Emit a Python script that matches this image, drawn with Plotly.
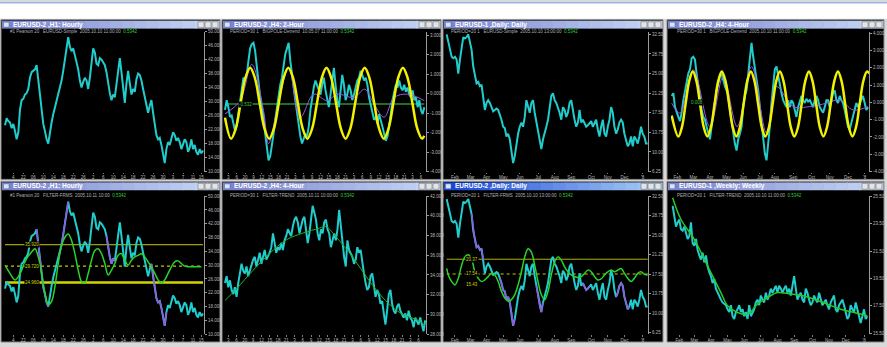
import plotly.graph_objects as go

# ---------------------------------------------------------------------------
# DATA  (expressed on a 0-100 scale of each
#        chart's height; tick labels give the price text shown on the axis)
# ---------------------------------------------------------------------------
# Panel 1 / Panel 5 : same instrument (hourly)
P1_CLOSE = [33, 38, 36, 35, 31, 34, 29, 23, 28, 44,
            51, 52, 55, 56, 59, 67, 71, 72, 73, 76,
            65, 51, 42, 34, 29, 23, 20, 29, 35, 41,
            46, 51, 55, 59, 65, 72, 81, 86, 96, 89,
            86, 88, 83, 78, 73, 65, 60, 64, 67, 65,
            59, 67, 79, 88, 85, 77, 76, 81, 80, 78,
            76, 71, 63, 56, 51, 55, 53, 63, 74, 81,
            71, 58, 49, 63, 72, 63, 55, 59, 57, 66,
            70, 69, 65, 59, 53, 47, 42, 47, 51, 42,
            33, 26, 23, 24, 19, 12, 6, 16, 21, 19,
            23, 28, 26, 22, 24, 21, 16, 19, 23, 21,
            14, 17, 23, 16, 19, 14, 12, 16, 13, 15]

# Panel 2 (cycle view)
P2_CLOSE = [44, 51, 46, 39, 40, 34, 29, 33, 41, 51,
            60, 67, 66, 69, 79, 88, 91, 92, 86, 74,
            62, 53, 46, 39, 27, 15, 8, 11, 18, 27,
            37, 46, 55, 62, 67, 77, 84, 88, 92, 79,
            67, 60, 51, 41, 32, 25, 20, 24, 27, 25,
            32, 44, 53, 60, 65, 62, 58, 55, 62, 67,
            58, 51, 46, 55, 67, 74, 62, 51, 46, 58,
            69, 62, 51, 55, 62, 58, 51, 55, 60, 65,
            67, 72, 69, 65, 67, 62, 53, 48, 41, 37,
            39, 34, 41, 37, 32, 27, 22, 25, 32, 41,
            51, 58, 62, 60, 65, 60, 58, 62, 57, 60,
            55, 53, 58, 51, 53, 46, 51, 44, 41, 46]
P2_CYCLE_BARS = [0, 3.6, 6.45, 9.3, 12.15, 15, 17.85, 20.7, 23.55, 26.4,
                 29.25, 32.1, 34.95, 37.8, 40.65, 43.5, 46.35, 49.2, 52.05, 54.9,
                 57.75, 60.6, 63.45, 66.3, 69.15, 72, 74.85, 77.7, 80.55, 83.4,
                 86.25, 89.1, 91.95, 94.8, 97.65, 100.5, 103.35, 106.2, 109.05, 111.9,
                 114.75, 117.6, 119]
P2_CYCLE = [38.5,
            23.5, 30.8, 48.8, 66.8, 74.1, 66.8, 48.8, 30.8,
            23.5, 30.8, 48.8, 66.8, 74.1, 66.8, 48.8, 30.8,
            23.5, 30.8, 48.8, 66.8, 74.1, 66.8, 48.8, 30.8,
            23.5, 30.8, 48.8, 66.8, 74.1, 66.8, 48.8, 30.8,
            23.5, 30.8, 48.8, 66.8, 74.1, 66.8, 48.8, 30.8,
            23.5, 25.5]
P2_MA_BARS = [0, 9, 16, 23, 26, 31, 38, 45, 53, 61, 67, 77, 83.4, 89, 95, 101, 109, 119]
P2_MA = [41.2, 50.6, 76.5, 43.5, 20, 43.5, 74.1, 38.8, 55.3, 50.6,
         55.3, 52.9, 58.8, 48.2, 38.8, 52.9, 55.3, 50.6]
P2_LEVEL = [48.2]

# Panel 3 / Panel 7 : same instrument (daily)
P3_CLOSE = [98, 92, 88, 82, 81, 82, 80, 70, 80, 87,
            96, 95, 96, 98, 92, 87, 75, 68, 63, 64,
            61, 62, 54, 44, 49, 51, 49, 46, 43, 44,
            45, 44, 41, 37, 32, 31, 25, 27, 23, 16,
            6, 11, 20, 27, 32, 35, 32, 39, 51, 46,
            42, 49, 51, 42, 35, 27, 20, 16, 23, 27,
            32, 37, 44, 54, 56, 51, 49, 46, 42, 37,
            46, 44, 39, 42, 49, 51, 42, 37, 32, 35,
            44, 35, 37, 35, 32, 33, 35, 36, 32, 35,
            37, 30, 25, 32, 37, 27, 25, 32, 37, 46,
            42, 32, 27, 30, 35, 37, 35, 27, 23, 18,
            20, 25, 18, 25, 23, 20, 25, 32, 27, 25,
            20, 20]

# Panel 4 (cycle view, 4-hour)
P4_CLOSE = [54, 56, 46, 42, 39, 36, 42, 51, 58, 65,
            70, 73, 81, 82, 80, 70, 61, 51, 44, 39,
            37, 32, 27, 23, 32, 42, 51, 58, 63, 68,
            70, 65, 61, 58, 54, 44, 35, 25, 20, 15,
            23, 27, 32, 46, 54, 58, 68, 82, 92, 82,
            75, 68, 58, 46, 35, 23, 13, 8, 18, 32,
            49, 61, 73, 75, 68, 61, 56, 51, 49, 46,
            51, 46, 51, 49, 44, 39, 46, 51, 54, 51,
            49, 52, 50, 51, 49, 46, 51, 54, 51, 46,
            44, 42, 46, 51, 51, 46, 51, 56, 58, 51,
            49, 54, 51, 49, 44, 37, 32, 30, 35, 39,
            44, 49, 46, 49, 51, 54, 49, 44, 46]
P4_CYCLE_BARS = [0, 4, 6.18, 8.36, 10.54, 12.72, 14.9, 17.08, 19.26, 21.44,
                 23.62, 25.8, 27.98, 30.16, 32.34, 34.52, 36.7, 38.88, 41.06, 43.24,
                 45.42, 47.6, 49.78, 51.96, 54.14, 56.32, 58.5, 60.68, 62.86, 65.04,
                 67.22, 69.4, 71.58, 73.76, 75.94, 78.12, 80.3, 82.48, 84.66, 86.84,
                 89.02, 91.2, 93.38, 95.56, 97.74, 99.92, 102.1, 104.28, 106.46, 108.64,
                 110.82, 113, 115.18, 117.36, 119]
P4_CYCLE = [40,
            25, 31.8, 48.2, 64.6, 71.4, 64.6, 48.2, 31.8,
            25, 31.8, 48.2, 64.6, 71.4, 64.6, 48.2, 31.8,
            25, 31.8, 48.2, 64.6, 71.4, 64.6, 48.2, 31.8,
            25, 31.8, 48.2, 64.6, 71.4, 64.6, 48.2, 31.8,
            25, 31.8, 48.2, 64.6, 71.4, 64.6, 48.2, 31.8,
            25, 31.8, 48.2, 64.6, 71.4, 64.6, 48.2, 31.8,
            25, 31.8, 48.2, 64.6, 71.4,
            70]
P4_MA_BARS = [0, 5, 13, 23, 31, 39.4, 48, 57, 63, 73, 83, 93, 101, 109, 118]
P4_MA = [48.8, 41.7, 72.6, 32.1, 67.9, 32.1, 75, 27.4, 60.7, 46.4, 46.4, 48.8, 51.2, 44, 46.4]

# Panel 5 oscillator + levels
P5_OSC_BARS = [0, 3, 6, 8, 10, 13, 16, 18, 20, 22,
               24, 26, 28, 30, 32, 34, 36, 38, 40, 42,
               44, 46, 48, 50, 52, 54, 56, 58, 60, 62,
               64, 66, 68, 70, 72, 74, 76, 78, 80, 82,
               84, 86, 88, 90, 92, 94, 96, 98, 100, 102,
               104, 106, 108, 111, 115, 118]
P5_OSC = [50, 44, 39.3, 41.7, 46.4, 54.8, 59.5, 61.9, 56, 44,
          29.8, 21.4, 23.8, 34.5, 51.2, 64.3, 70.2, 72.6, 67.9, 58.3,
          46.4, 38.1, 36.9, 44, 53.6, 60.7, 61.9, 58.3, 51.2, 42.9,
          46.4, 51.2, 57.1, 58.3, 53.6, 50, 53.6, 56, 57.1, 58.3,
          56, 52.4, 48.8, 44, 39.3, 36.9, 39.3, 44, 48.8, 52.4,
          53.1, 51.2, 49.3, 48.8, 48.8, 48.8]
P5_LEVELS = [64.8, 49.3, 37.4]
P5_LEVEL_LABELS = ["35.920", "29.720", "24.960"]

# Panel 6 (4-hour with smooth trend)
P6_CLOSE = [37, 42, 34, 39, 32, 29, 34, 27, 37, 46,
            51, 46, 44, 49, 42, 46, 51, 54, 56, 49,
            54, 59, 51, 56, 61, 54, 56, 59, 63, 73,
            66, 59, 63, 61, 66, 61, 68, 71, 76, 73,
            71, 78, 83, 85, 81, 73, 78, 83, 85, 76,
            66, 73, 85, 93, 88, 83, 73, 68, 76, 73,
            81, 83, 76, 73, 63, 68, 73, 68, 76, 90,
            78, 63, 56, 49, 68, 61, 59, 56, 51, 54,
            63, 59, 61, 51, 44, 37, 32, 34, 42, 44,
            34, 27, 32, 29, 22, 24, 15, 7, 17, 29,
            32, 22, 17, 15, 20, 22, 17, 15, 12, 15,
            10, 17, 12, 10, 5, 12, 10, 7, 12, 7,
            2, 10]
P6_TREND_BARS = [0, 7, 17, 27, 37, 47, 57, 61, 67, 77, 87, 97, 107, 117, 121]
P6_TREND = [24.4, 32.9, 46.3, 58.5, 68.3, 73.2, 76.8, 78, 70.7, 56.1, 39, 24.4, 14.6, 9.8, 6.1]

# Panel 7 oscillator + levels
P7_OSC_BARS = [0, 1, 3, 5, 7, 9, 11, 13, 15, 17,
               19, 21, 23, 25, 27, 29, 31, 33, 35, 37,
               39, 41, 43, 45, 47, 49, 51, 53, 55, 57,
               59, 61, 63, 65, 67, 69, 71, 73, 75, 77,
               79, 81, 83, 85, 87, 89, 91, 93, 95, 97,
               99, 101, 103, 105, 107, 109, 111, 113, 115, 117,
               119, 121]
P7_OSC = [47.6, 42.9, 38.1, 35.7, 40.5, 50, 56, 57.6, 54.3, 45.2,
          40.5, 38.1, 39.3, 41.7, 44, 42.9, 38.1, 31, 26.2, 23.8,
          25, 28.6, 35.7, 45.2, 56, 61.9, 59.5, 50, 38.1, 28.6,
          25, 31, 42.9, 52.4, 56, 53.6, 48.8, 45.2, 42.9, 41.7,
          41, 41.7, 44, 46.4, 45.2, 41.7, 39.3, 40, 42.9, 45.2,
          46.4, 45.2, 46.4, 47.6, 44, 40.5, 38.1, 40.5, 44, 45.2,
          43.3, 42.9]
P7_LEVELS = [54.3, 43.6]
P7_LEVEL_LABELS = ["20.37", "17.54", "15.43"]
P7_LEVEL_LABEL_Y = [54.3, 43.6, 35.7]

# Panel 8 (weekly with smooth trend)
P8_CLOSE = [93, 86, 78, 81, 83, 76, 75, 78, 74, 69,
            71, 81, 66, 64, 69, 61, 57, 54, 59, 52,
            57, 49, 45, 42, 37, 40, 33, 30, 28, 25,
            23, 22, 21, 18, 16, 21, 13, 11, 16, 18,
            21, 16, 18, 13, 16, 11, 21, 13, 16, 18,
            23, 25, 21, 28, 25, 23, 30, 25, 28, 33,
            30, 33, 35, 30, 35, 33, 30, 33, 35, 30,
            33, 28, 35, 42, 33, 25, 28, 30, 25, 23,
            33, 30, 25, 21, 23, 28, 25, 23, 30, 25,
            21, 23, 25, 21, 18, 23, 25, 28, 18, 16,
            21, 23, 25, 21, 16, 11, 13, 21, 18, 16,
            23, 18, 11, 8, 13, 18, 11, 13]
P8_TREND_BARS = [0, 5, 13, 21, 29, 33, 39, 45, 51, 57, 63, 69, 77, 85, 93, 101, 109, 117]
P8_TREND = [98.8, 83.1, 68.7, 49.4, 30.1, 20.5, 15.7, 14.5, 21.7, 26.5,
            30.1, 29.4, 28.2, 25.3, 21.7, 18.1, 15.7, 13.3]

# Tick labels -----------------------------------------------------------------
Y_TICKS_A = [0, 10, 20, 30, 40, 50, 60, 70, 80, 90, 100]
Y_TEXT_A = ["10.000", "14.000", "18.000", "22.000", "26.000", "30.000",
            "34.000", "38.000", "42.000", "46.000", "50.000"]
Y_TICKS_P2 = [0, 13.9, 27.8, 41.7, 55.6, 69.5, 83.4, 97.3]
Y_TEXT_P2 = ["-4.000", "-3.000", "-2.000", "-1.000", "0.000", "1.000", "2.000", "3.000"]
Y_TICKS_P3 = [0, 14, 28, 42, 56, 70, 84, 98]
Y_TEXT_P3 = ["6.25", "10.00", "13.75", "17.50", "21.25", "25.00", "28.75", "32.50"]
Y_TICKS_P4 = [0, 12.4, 24.7, 37.1, 49.4, 61.8, 74.1, 86.5, 98.8]
Y_TEXT_P4 = ["-4.000", "-3.000", "-2.000", "-1.000", "0.000", "1.000", "2.000", "3.000", "4.000"]
Y_TICKS_P6 = [0, 14.3, 28.6, 42.9, 57.2, 71.5, 85.8, 99.5]
Y_TEXT_P6 = ["28.000", "30.000", "32.000", "34.000", "36.000", "38.000", "40.000", "42.000"]
Y_TICKS_P7 = [1.2, 15.3, 29.4, 43.5, 57.6, 71.7, 85.8, 99.5]
Y_TICKS_P8 = [0.8, 20.6, 40.4, 60.2, 80, 99.5]
Y_TEXT_P8 = ["15.50", "17.50", "19.50", "21.50", "23.50", "25.50"]

X_TICKS_HOURLY = [5, 11, 17, 23, 29, 35, 41, 47, 53, 59, 65, 71, 77, 83, 89, 95, 101, 107, 113, 118]
X_TEXT_HOURLY = ["4", "22", "06", "10", "14", "18", "22", "26", "2", "6",
                 "10", "14", "18", "22", "26", "30", "3", "7", "11", "15"]
X_TICKS_4H = [2, 7, 12, 17, 22, 27, 32, 37, 42, 47, 52, 57, 62, 67, 72, 77, 82, 87, 92, 97, 102, 107, 112, 117]
X_TEXT_4H = ["3", "6", "20", "9", "12", "15", "18", "21", "3", "6", "9", "12",
             "15", "18", "21", "3", "6", "9", "12", "15", "18", "21", "3", "6"]
X_TICKS_P3 = [5, 14.4, 24, 34, 44, 55, 65, 75, 87, 97, 107, 118]
X_TICKS_P4 = [3.4, 13, 23, 33, 43, 53, 62, 73, 84, 95, 106, 116]
X_TICKS_P8 = [4, 13, 23, 33, 43, 53, 63, 73, 84, 94, 104, 115]
X_TEXT_MONTHS = ["Feb", "Mar", "Apr", "May", "Jun", "Jul", "Aug", "Sep", "Oct", "Nov", "Dec", "'8"]

TITLES = ["EURUSD-2 ,H1: Hourly", "EURUSD-2 ,H4: 2-Hour", "EURUSD-1 ,Daily: Daily",
          "EURUSD-2 ,H4: 4-Hour", "EURUSD-2 ,H1: Hourly", "EURUSD-2 ,H4: 4-Hour",
          "EURUSD-2 ,Daily: Daily", "EURUSD-1 ,Weekly: Weekly"]
SUBTITLES = ["#1 Pearson 20   EURUSD-Simple  2005.10.10 11:00:00",
             "PERIOD=30 1   BIGPOLE-Detrend  10.05.07 11:00:00",
             "PERIOD=20 1   EURUSD-Simple  2005.10.10 13:00:00",
             "PERIOD=30 1   BIGPOLE-Detrend  2005.10.10 11:00:00",
             "#1 Pearson 20   FILTER-FRMS  2005.10.11 10:00",
             "PERIOD=30 1   FILTER-TREND  2005.10.11 10:00:00",
             "PERIOD=20 1   FILTER-FRMS  2005.10.10 13:00:00",
             "PERIOD=20 1   FILTER-TREND  2005.10.10 11:00:00"]
SUB_VALUES = ["0.5342", "0.5342", "0.5342", "0.5342", "0.5342", "0.5342", "0.5342", "0.5342"]

# ---------------------------------------------------------------------------
# LAYOUT / STYLE
# ---------------------------------------------------------------------------
W, H = 887, 347
FONT = "Liberation Sans, Arial, sans-serif"
CYAN = "#20cccc"
YELLOW = "#f2f200"
GREEN = "#2ad42a"
PURPLE = "#9b55e6"
TICKCOL = "#b8b8b8"


def fx(p):
    return p / W


def fy(p):
    return 1 - p / H


COL_WIN = [(1, 220), (222, 441), (443, 663), (667, 884)]
ROW_WIN = [(18, 180), (182, 345)]
COL_PLOT = [(4, 204), (224, 426), (445, 648), (671, 869)]
ROW_PLOT = [(30, 172), (197, 337)]

fig = go.Figure()
shapes = []
annotations = []


def hex2rgb(h):
    h = h.lstrip("#")
    return tuple(int(h[i:i + 2], 16) for i in (0, 2, 4))


def rect(x0, y0, x1, y1, fill, line=None, lw=0):
    shapes.append(dict(type="rect", xref="paper", yref="paper",
                       x0=fx(x0), x1=fx(x1), y0=fy(y1), y1=fy(y0),
                       fillcolor=fill, line=dict(color=line or fill, width=lw),
                       layer="below"))


def gradient(x0, x1, y0, y1, c0, c1, steps=18):
    a, b = hex2rgb(c0), hex2rgb(c1)
    w = (x1 - x0) / steps
    for s in range(steps):
        t = s / (steps - 1)
        c = "rgb(%d,%d,%d)" % tuple(round(a[k] + (b[k] - a[k]) * t) for k in range(3))
        rect(x0 + s * w, y0, x0 + (s + 1) * w + 0.6, y1, c)


# background pieces
rect(0, 0, W, H, "#d9d9d9")
rect(0, 0, W, 17, "#ffffff")
rect(0, 0, W, 1.5, "#9db3dc")

for r, (wy0, wy1) in enumerate(ROW_WIN):
    for c, (wx0, wx1) in enumerate(COL_WIN):
        idx = r * 4 + c
        active = (idx == 6)
        rect(wx0, wy0, wx1, wy1, "#000000", "#8c8c8c", 1)
        ty0, ty1 = wy0 + 1, wy0 + 9
        if active:
            gradient(wx0 + 1, wx1 - 1, ty0, ty1, "#1848d8", "#a8ccf4")
        else:
            gradient(wx0 + 1, wx1 - 1, ty0, ty1, "#7a84cf", "#c6d7f5")
        # window icon
        rect(wx0 + 2.5, ty0 + 1.5, wx0 + 8, ty1 - 1.5, "#d8e4f8", "#5060a0", 0.5)
        # buttons
        for k in range(3):
            bx = wx1 - 22 + k * 7
            rect(bx, ty0 + 1, bx + 6, ty1 - 1, "#e4e4e4", "#606060", 0.5)
        annotations.append(dict(xref="paper", yref="paper", x=fx(wx0 + 10), y=fy((ty0 + ty1) / 2),
                                xanchor="left", yanchor="middle", showarrow=False,
                                text="<b>" + TITLES[idx] + "</b>",
                                font=dict(family=FONT, size=6.5, color="#ffffff")))
        px0, px1 = COL_PLOT[c]
        py0, py1 = ROW_PLOT[r]
        annotations.append(dict(xref="paper", yref="paper", x=fx(px0 + 4), y=fy(py0 - 0.5),
                                xanchor="left", yanchor="middle", showarrow=False,
                                text=SUBTITLES[idx] + "  <span style='color:#30d030'>" + SUB_VALUES[idx] + "</span>",
                                font=dict(family=FONT, size=4.5, color="#b0b0b0")))

panel_axes = {}
X_RANGES = [[-0.6, 119.6], [-0.6, 120], [-1, 121.2], [-0.4, 118.6],
            [-0.6, 119.6], [-0.6, 121.5], [-1, 121.2], [-1, 118]]
Y_TICKS = [(Y_TICKS_A, Y_TEXT_A), (Y_TICKS_P2, Y_TEXT_P2), (Y_TICKS_P3, Y_TEXT_P3),
           (Y_TICKS_P4, Y_TEXT_P4), (Y_TICKS_A, Y_TEXT_A), (Y_TICKS_P6, Y_TEXT_P6),
           (Y_TICKS_P7, Y_TEXT_P3), (Y_TICKS_P8, Y_TEXT_P8)]
X_TICKS = [(X_TICKS_HOURLY, X_TEXT_HOURLY), (X_TICKS_4H, X_TEXT_4H), (X_TICKS_P3, X_TEXT_MONTHS),
           (X_TICKS_P4, X_TEXT_MONTHS), (X_TICKS_HOURLY, X_TEXT_HOURLY), (X_TICKS_4H, X_TEXT_4H),
           (X_TICKS_P3, X_TEXT_MONTHS), (X_TICKS_P8, X_TEXT_MONTHS)]

layout_axes = {}
for i in range(8):
    r, c = divmod(i, 4)
    n = "" if i == 0 else str(i + 1)
    px0, px1 = COL_PLOT[c]
    py0, py1 = ROW_PLOT[r]
    layout_axes["xaxis" + n] = dict(
        domain=[fx(px0), fx(px1)], anchor="y" + n, range=X_RANGES[i],
        showgrid=False, zeroline=False, showline=False,
        tickmode="array", tickvals=X_TICKS[i][0], ticktext=X_TICKS[i][1],
        ticks="outside", ticklen=1.5, tickcolor="#808080",
        tickfont=dict(family=FONT, size=4.5, color=TICKCOL), fixedrange=True)
    layout_axes["yaxis" + n] = dict(
        domain=[fy(py1), fy(py0)], anchor="x" + n, side="right", range=[0, 100],
        showgrid=False, zeroline=False, showline=True, linecolor="#9a9a9a", linewidth=1,
        tickmode="array", tickvals=Y_TICKS[i][0], ticktext=Y_TICKS[i][1],
        ticks="outside", ticklen=2, tickcolor="#9a9a9a",
        tickfont=dict(family=FONT, size=4.5, color=TICKCOL), fixedrange=True)


def ax(i):
    n = "" if i == 0 else str(i + 1)
    return "x" + n, "y" + n


def line(i, x, y, color, width, dash="solid", shape="linear"):
    xa, ya = ax(i)
    fig.add_trace(go.Scatter(x=x, y=y, mode="lines", xaxis=xa, yaxis=ya,
                             line=dict(color=color, width=width, dash=dash, shape=shape),
                             hoverinfo="skip", connectgaps=False))


def bars(series):
    return list(range(len(series)))


def segments(series, ranges):
    out = [None] * len(series)
    for a, b in ranges:
        for k in range(a, b + 1):
            out[k] = series[k]
    return out


def label(i, x, y, text, color):
    xa, ya = ax(i)
    annotations.append(dict(xref=xa, yref=ya, x=x, y=y, text=text, showarrow=False,
                            xanchor="center", yanchor="middle", bgcolor="#000000",
                            borderpad=0, font=dict(family=FONT, size=4.5, color=color)))


# Panel 1
line(0, bars(P1_CLOSE), P1_CLOSE, CYAN, 2)

# Panel 2
line(1, [0, len(P2_CLOSE) - 1], P2_LEVEL * 2, "#2f8f2f", 1.5)
line(1, bars(P2_CLOSE), P2_CLOSE, CYAN, 2)
line(1, P2_MA_BARS, P2_MA, PURPLE, 1, shape="spline")
line(1, P2_CYCLE_BARS, P2_CYCLE, YELLOW, 2.5, shape="spline")
label(1, 12, P2_LEVEL[0], "-0.532", "#40c040")

# Panel 3
line(2, bars(P3_CLOSE), P3_CLOSE, CYAN, 2)

# Panel 4
line(3, bars(P4_CLOSE), P4_CLOSE, CYAN, 2)
line(3, P4_MA_BARS, P4_MA, PURPLE, 1, shape="spline")
line(3, P4_CYCLE_BARS, P4_CYCLE, YELLOW, 2.5, shape="spline")
label(3, 15, 49.5, "0.008", "#40c040")

# Panel 5
n5 = len(P1_CLOSE) - 1
line(4, [0, n5], [P5_LEVELS[0]] * 2, "#c8c800", 1)
line(4, [0, n5], [P5_LEVELS[1]] * 2, "#c8c800", 1.2, dash="dot")
line(4, [0, n5], [P5_LEVELS[2]] * 2, "#d4d400", 2.5)
line(4, bars(P1_CLOSE), P1_CLOSE, CYAN, 2)
line(4, bars(P1_CLOSE), segments(P1_CLOSE, [(19, 26), (32, 38), (61, 66), (88, 97)]), PURPLE, 1.5)
line(4, P5_OSC_BARS, P5_OSC, GREEN, 1.5, shape="spline")
for lv, lt in zip(P5_LEVELS, P5_LEVEL_LABELS):
    label(4, 16, lv, lt, "#d4d400")

# Panel 6
line(5, bars(P6_CLOSE), P6_CLOSE, CYAN, 2)
line(5, P6_TREND_BARS, P6_TREND, "#22b022", 1, shape="spline")

# Panel 7
n7 = len(P3_CLOSE) - 1
line(6, [0, n7], [P7_LEVELS[0]] * 2, "#b0b000", 1)
line(6, [0, n7], [P7_LEVELS[1]] * 2, "#c8c800", 1.2, dash="dot")
line(6, bars(P3_CLOSE), P3_CLOSE, CYAN, 2)
line(6, bars(P3_CLOSE), segments(P3_CLOSE, [(15, 22), (32, 41), (54, 58), (82, 86), (102, 110)]), PURPLE, 1.5)
line(6, P7_OSC_BARS, P7_OSC, GREEN, 1.5, shape="spline")
for lv, lt in zip(P7_LEVEL_LABEL_Y, P7_LEVEL_LABELS):
    label(6, 15, lv, lt, "#d4d400")

# Panel 8
line(7, bars(P8_CLOSE), P8_CLOSE, CYAN, 2)
line(7, P8_TREND_BARS, P8_TREND, "#28c828", 1.5, shape="spline")

fig.update_layout(width=W, height=H, autosize=False,
                  margin=dict(l=0, r=0, t=0, b=0),
                  paper_bgcolor="#d9d9d9", plot_bgcolor="#000000",
                  showlegend=False, shapes=shapes, annotations=annotations,
                  **layout_axes)

fig.write_html("out.html")
